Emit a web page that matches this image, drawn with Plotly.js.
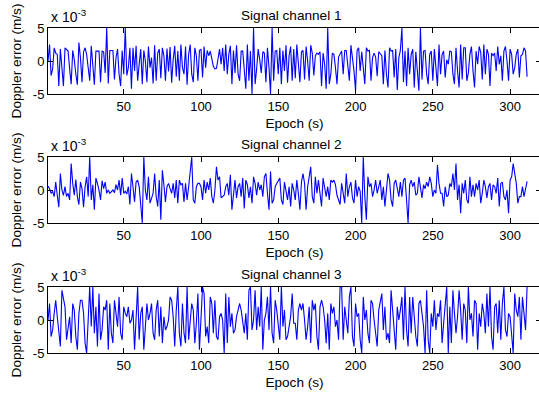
<!DOCTYPE html>
<html><head><meta charset="utf-8">
<script src="https://cdn.plot.ly/plotly-3.0.1.min.js"></script>
<style>html,body{margin:0;padding:0;overflow:hidden;background:#fff}#chart{width:545px;height:395px}</style>
</head><body><div id="chart"></div><script>
// Doppler error values in units of 1e-3 m/s, one per epoch
const channel1 = [
0,2.5,-2.2,-1.2,2.0,1.2,1.0,-3.8,1.8,-0.5,
-3.8,2.0,1.8,1.5,-1.2,-3.5,1.6,0.2,-2.0,-3.6,
2.8,0.5,-3.2,1.4,2.0,1.0,-1.0,-3.0,2.3,-0.2,
-3.6,1.5,1.5,1.5,-3.2,1.5,1.4,-1.8,5.0,-3.4,
1.6,1.6,1.6,-2.8,0.5,1.8,-2.0,-3.8,1.6,-2.0,
5.0,-2.2,-1.0,2.0,-4.2,2.0,-1.5,2.3,-3.0,-0.5,
1.8,-3.5,1.6,0.0,-3.2,2.2,-1.0,0.5,-3.4,2.4,
-3.0,1.2,1.8,-2.6,2.0,0.8,-3.0,1.9,-1.6,2.1,
-3.3,0.2,2.3,-2.4,1.5,-3.0,2.5,-1.0,-2.0,2.2,
-3.6,1.0,2.5,-2.0,-3.2,2.0,0.8,-3.0,1.6,1.8,
-2.5,2.2,-1.0,1.6,0.8,1.5,0.5,-0.8,-1.2,-1.1,
0.3,1.8,-0.5,2.0,-1.5,2.5,-2.0,1.0,2.3,-3.5,
1.6,-1.8,2.4,-2.0,-3.0,1.5,1.5,-2.2,-4.2,2.5,
-3.0,1.5,-5.0,5.0,-3.5,-1.2,1.8,0.2,-1.8,1.4,
1.2,-3.2,2.0,-1.0,-5.0,5.0,-3.0,1.5,1.6,-2.0,
2.0,-3.5,1.6,-1.5,2.4,-3.3,0.8,2.2,-3.0,1.8,
-2.6,2.5,-0.8,-3.2,1.4,1.6,-2.8,2.2,0.0,-3.0,
2.4,1.2,-2.2,0.8,1.2,1.0,1.4,-3.8,1.2,-0.5,
-4.2,5.0,-3.5,-2.0,1.2,1.0,-1.0,-3.5,0.6,1.0,
1.5,-2.0,1.6,1.6,-1.0,-3.0,2.4,0.5,-1.5,-4.5,
1.6,2.0,-1.5,1.4,-0.8,-3.5,2.0,1.5,1.6,-3.0,
0.5,1.2,0.6,-2.3,1.4,1.0,0.8,-3.5,1.6,-2.0,
-4.0,2.0,1.5,1.6,-2.5,1.8,-4.4,0.5,1.6,5.0,
-3.2,1.5,-3.8,2.0,-2.0,1.0,1.8,-4.0,1.4,-1.5,
-4.5,5.0,-2.8,1.5,1.6,-2.0,-3.5,1.0,1.5,-3.0,
1.8,-1.0,-3.8,2.5,-2.0,1.0,1.5,-2.5,0.2,-0.5,
1.5,1.4,-2.0,-3.5,2.0,-1.5,-4.0,2.5,-2.8,2.0,
2.0,-3.0,-1.8,1.0,2.2,-1.5,-4.0,1.5,-0.5,2.2,
1.3,-2.8,2.5,-2.0,1.8,1.0,-3.8,1.2,0.8,1.2,
-1.5,2.2,-0.5,0.8,-3.0,1.5,2.2,0.0,-3.0,1.8,
1.0,-2.0,-1.0,1.0,1.8,-2.5,0.8,1.0,2.0,1.5,-2.4
];
const channel2 = [
0.6,0.2,-0.5,-0.2,-1.0,1.2,-0.8,-2.6,2.5,0.0,
-0.8,0.5,-1.0,-0.5,-1.5,4.0,1.0,-0.8,1.6,-1.0,
-2.2,1.2,0.2,-2.6,0.5,2.0,-1.0,5.0,-1.5,0.8,
-3.0,1.8,1.0,0.0,-1.5,1.4,0.2,1.2,-0.5,0.0,
-0.5,-0.2,0.0,-0.4,0.8,0.0,1.5,-0.8,1.8,-0.5,
-0.2,-0.6,0.5,-2.2,2.5,0.5,-1.8,1.2,1.5,0.5,
-2.0,-5.0,5.0,0.0,-1.5,2.0,-2.0,-1.0,-0.5,2.5,
-1.0,-2.5,1.5,-4.5,3.0,0.8,-1.8,0.5,1.0,0.2,
-0.5,1.0,-1.2,1.5,-2.0,1.5,0.8,1.0,-1.8,1.0,
-1.5,0.5,2.5,5.0,-1.5,-2.0,0.5,1.0,1.0,0.5,
-1.5,1.5,-0.5,1.2,0.0,1.8,-1.0,-2.0,0.0,3.5,
1.5,2.0,-1.2,-1.0,-0.8,0.5,1.0,-0.8,2.3,-3.0,
-0.5,1.5,-1.2,0.5,1.0,-1.0,1.8,-2.8,1.5,0.8,
-1.2,0.5,-2.0,2.0,1.0,-0.8,1.2,0.0,0.8,-1.0,
2.0,2.5,-0.5,-3.0,2.8,-2.0,-1.5,0.5,1.0,1.5,
1.8,-1.5,-2.2,1.2,0.0,-1.5,0.5,-2.5,1.0,0.0,
-1.5,1.5,-0.5,-3.0,1.2,2.5,1.0,-3.0,0.5,1.8,
3.5,-1.0,-2.0,2.0,-0.5,1.5,-1.0,-2.5,1.8,0.5,
-1.0,0.5,-1.5,1.5,1.2,1.5,0.8,-0.8,-1.5,-2.2,
1.0,-0.5,-2.0,2.5,-1.0,0.5,1.2,-1.2,-2.0,1.5,
-1.0,0.5,-0.2,-5.0,5.0,-1.0,-4.5,2.0,0.5,1.0,
-1.0,0.0,1.5,-0.5,0.5,1.5,-1.5,0.5,-2.5,0.5,
2.5,1.5,-1.5,-2.5,1.0,1.5,0.0,-1.0,1.2,-1.0,
1.5,1.8,-1.5,-5.0,0.8,1.5,0.5,1.2,-0.8,-0.5,
2.0,0.5,-1.2,0.8,0.2,1.2,0.5,2.0,1.0,-1.0,
0.0,-0.5,3.8,1.0,-0.5,-0.5,-2.5,0.5,-1.0,-0.8,
1.0,0.5,2.5,0.0,4.0,-1.5,0.8,-3.5,1.0,-0.5,
1.5,-1.5,-2.0,2.0,-1.0,0.8,-1.0,1.0,0.0,1.5,
-2.0,-0.5,1.5,0.5,-1.2,0.5,1.0,-1.5,0.8,0.5,
-0.5,1.8,-2.5,1.0,1.2,-1.0,-1.5,0.0,-3.5,1.5,
2.0,4.0,2.5,1.0,-2.0,-1.0,-1.0,0.5,-1.0,0.0,1.3
];
const channel3 = [
0.0,2.5,-2.5,-1.5,1.0,3.0,0.5,-2.0,-4.0,4.5,
3.5,2.0,-3.0,-1.0,0.5,-3.5,2.5,1.5,-2.5,-4.5,
1.0,3.0,3.0,1.0,-3.5,-5.0,0.0,5.0,-1.0,5.0,
-2.0,2.0,-4.0,4.0,-3.0,-1.5,2.0,1.5,3.0,-4.5,
2.5,-2.0,-3.5,3.0,1.0,-1.0,3.5,-2.0,-3.0,2.0,
1.0,0.5,2.0,-0.5,0.0,1.5,-4.5,0.5,5.0,-3.0,
1.0,2.0,-4.5,-1.0,2.5,0.0,1.0,2.5,-2.0,-3.0,
1.5,3.0,-2.5,2.0,-3.5,0.5,-1.5,-1.0,0.0,3.5,
3.0,0.5,-4.0,1.5,5.0,-2.0,-4.0,2.5,-2.0,-3.5,
5.0,-3.0,0.5,2.5,1.5,-3.5,-0.5,4.0,-4.5,1.0,
5.0,4.0,-2.5,-1.0,-3.5,3.5,2.5,-2.0,3.0,-2.5,
-3.0,0.5,1.0,0.0,-5.0,4.0,-3.5,3.5,-1.0,1.0,
-2.0,-1.5,0.5,1.5,2.5,1.5,0.0,-2.0,1.0,-3.0,
4.5,5.0,-1.5,0.0,4.5,-1.5,2.0,-1.0,5.0,-4.5,
0.0,1.0,3.5,-1.5,5.0,-2.0,-3.5,3.0,1.5,-0.5,
-3.0,5.0,-1.0,1.5,-3.0,-2.5,-1.0,0.5,4.0,-0.5,
-0.5,-3.0,1.5,2.5,1.5,2.5,0.0,-3.0,-1.0,2.0,
-3.5,3.0,1.5,2.5,-2.5,-4.5,2.0,3.0,2.0,0.0,
-3.5,1.0,-4.5,2.5,1.0,2.0,-1.0,0.0,-3.0,5.0,
5.0,-3.0,2.0,0.0,-2.0,3.5,5.0,-2.5,-4.0,2.5,
0.5,1.0,-3.0,-5.0,3.5,0.0,1.5,-2.0,-3.5,3.0,
2.5,0.0,-2.5,-4.0,1.5,2.5,4.0,-1.5,2.0,-3.0,
-2.0,-3.5,4.5,1.5,-1.0,-4.5,2.0,0.0,1.5,3.5,
-3.0,5.0,-1.5,-4.0,3.5,-2.0,3.5,0.0,-2.5,-4.0,
2.5,3.0,1.0,-1.0,-5.0,4.5,-3.0,-5.0,1.0,-1.0,
3.0,-1.5,1.0,0.5,3.0,-3.5,-0.5,2.0,5.0,-5.0,
2.0,-3.5,4.5,1.0,-2.0,0.5,4.5,1.5,-3.0,2.5,
1.5,-3.5,5.0,0.0,1.0,-2.5,3.0,2.5,-4.5,1.0,
-1.0,2.5,1.0,-2.0,4.0,-1.0,5.0,-2.5,-4.5,2.0,
2.5,-2.0,3.0,-3.0,2.5,5.0,-1.5,-2.5,1.0,0.5,
-3.0,-5.0,4.0,1.5,0.5,3.5,-3.0,3.5,1.0,-1.5,5.0
];
const channelTitles = ['Signal channel 1','Signal channel 2','Signal channel 3'];
const xTickVals = [50,100,150,200,250,300];
const yTickVals = [-5,0,5];
const yTickText = ['-5','0','5'];
const series = [channel1, channel2, channel3];

const W = 545, H = 395;
// plot boxes in pixels (top, bottom)
const boxes = [[28,94],[157,223],[287,353]];
const py = p => 1 - p / H;
const family = 'Liberation Sans, Arial, Helvetica, sans-serif';
const tickFont = {family: family, size: 13, color: '#000'};
const titleFont = {family: family, size: 13.6, color: '#000'};

const data = [];
const layout = {
  width: W, height: H,
  margin: {l: 48, r: 4, t: 0, b: 0},
  paper_bgcolor: '#fff', plot_bgcolor: '#fff',
  showlegend: false, font: tickFont,
  annotations: []
};
series.forEach((vals, i) => {
  const n = i === 0 ? '' : String(i + 1);
  const epochs = vals.map((_, k) => k + 1);
  data.push({x: epochs, y: vals, xaxis: 'x' + n, yaxis: 'y' + n, type: 'scatter', mode: 'lines',
    line: {color: '#0000ff', width: 1.1}, hoverinfo: 'skip'});
  const [top, bot] = boxes[i];
  layout['xaxis' + n] = {
    domain: [0, 1], anchor: 'y' + n, range: [1, 320],
    tickmode: 'array', tickvals: xTickVals, ticks: 'inside', ticklen: 5, tickcolor: '#000',
    showline: true, linecolor: '#000', linewidth: 1, mirror: 'ticks',
    showgrid: false, zeroline: false, tickfont: tickFont,
    title: {text: 'Epoch (s)', font: titleFont, standoff: 5}
  };
  layout['yaxis' + n] = {
    domain: [py(bot), py(top)], anchor: 'x' + n, range: [-5, 5],
    tickmode: 'array', tickvals: yTickVals, ticktext: yTickText, ticks: 'inside', ticklen: 5, tickcolor: '#000',
    showline: true, linecolor: '#000', linewidth: 1, mirror: 'ticks',
    showgrid: false, zeroline: false, tickfont: tickFont,
    title: {text: 'Doppler error (m/s)', font: titleFont, standoff: 8}
  };
  layout.annotations.push({
    text: channelTitles[i], xref: 'paper', yref: 'paper', x: 0.494, y: py(top - 3),
    xanchor: 'center', yanchor: 'bottom', showarrow: false, font: titleFont
  });
  layout.annotations.push({
    text: 'x 10<sup>-3</sup>', xref: 'paper', yref: 'paper', x: 0.002, y: py(top - 1),
    xanchor: 'left', yanchor: 'bottom', showarrow: false, font: {family: family, size: 14, color: '#000'}
  });
});
Plotly.newPlot('chart', data, layout, {staticPlot: true, displayModeBar: false});
</script></body></html>
